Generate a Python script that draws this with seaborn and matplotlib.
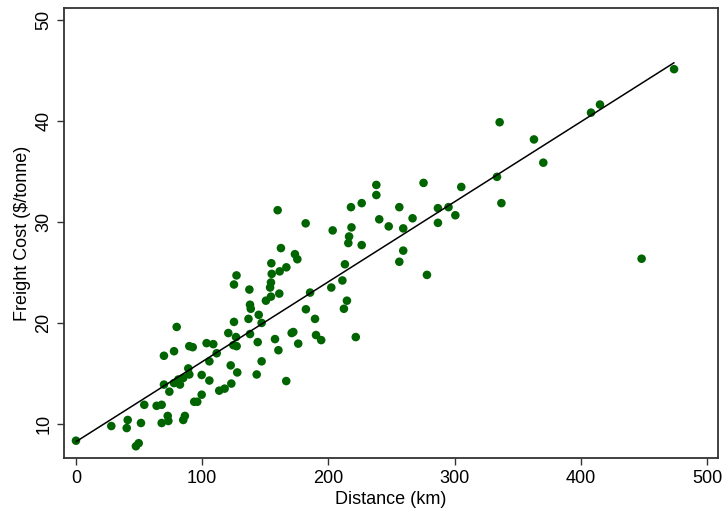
import matplotlib
matplotlib.use("Agg")
import matplotlib.pyplot as plt
import seaborn as sns
import pandas as pd

distance_km = [
    0, 28.0, 41.0, 40.2, 51.5, 47.5, 49.7, 54.1, 63.9, 67.9,
    67.9, 73.2, 72.7, 85.0, 86.3, 93.7, 96.1, 99.6, 69.7, 74.0,
    77.7, 81.1, 82.4, 85.0, 89.8, 89.0, 99.6, 105.7, 113.5, 117.8,
    123.1, 122.6, 127.8, 143.2, 147.1, 166.6, 69.7, 77.7, 79.8, 89.8,
    92.5, 103.5, 108.8, 111.5, 105.7, 120.7, 126.8, 137.9, 124.7, 127.3,
    144.0, 125.2, 136.7, 144.8, 147.1, 137.9, 138.5, 125.2, 127.2, 137.4,
    150.5, 154.5, 161.1, 153.8, 154.5, 155.1, 161.4, 166.7, 154.8, 173.5,
    175.4, 162.4, 159.8, 182.0, 157.7, 160.4, 170.9, 172.2, 176.1, 190.2,
    194.3, 189.4, 182.2, 185.5, 221.7, 202.3, 211.1, 213.1, 214.7, 212.3,
    203.4, 217.9, 218.3, 216.4, 215.8, 226.4, 226.4, 238.0, 238.0, 240.3,
    247.8, 256.2, 259.3, 259.3, 256.2, 266.7, 275.4, 278.1, 286.8, 286.8,
    295.2, 300.6, 305.3, 333.6, 335.7, 337.1, 362.9, 370.3, 408.1, 415.2,
    448.2, 473.9,
]
freight_cost = [
    8.35, 9.8, 10.4, 9.6, 10.1, 7.8, 8.1, 11.9, 11.8, 11.9,
    10.1, 10.3, 10.8, 10.4, 10.8, 12.2, 12.2, 12.9, 13.9, 13.2,
    14.05, 14.4, 13.9, 14.55, 14.9, 15.5, 14.85, 14.3, 13.3, 13.5,
    14.0, 15.8, 15.1, 14.9, 16.2, 14.25, 16.75, 17.2, 19.6, 17.7,
    17.6, 18.0, 17.9, 17.0, 16.2, 19.0, 18.6, 18.9, 17.8, 17.7,
    18.1, 20.1, 20.4, 20.8, 20.0, 21.8, 21.4, 23.8, 24.7, 23.3,
    22.2, 22.6, 22.9, 23.5, 24.0, 24.85, 25.1, 25.5, 25.9, 26.8,
    26.3, 27.4, 31.15, 29.85, 18.4, 17.3, 19.0, 19.1, 17.95, 18.8,
    18.3, 20.4, 21.35, 23.0, 18.6, 23.5, 24.2, 25.8, 22.2, 21.4,
    29.15, 31.45, 29.45, 28.55, 27.9, 31.85, 27.7, 33.65, 32.65, 30.25,
    29.55, 31.45, 29.35, 27.15, 26.05, 30.35, 33.85, 24.75, 31.35, 29.9,
    31.45, 30.65, 33.45, 34.45, 39.85, 31.85, 38.15, 35.85, 40.8, 41.6,
    26.35, 45.1,
]
x_ticks = [0, 100, 200, 300, 400, 500]
y_ticks = [10, 20, 30, 40, 50]

df = pd.DataFrame({"Distance (km)": distance_km, "Freight Cost ($/tonne)": freight_cost})

sns.set_theme(style="white")
plt.rcParams["font.family"] = ["Liberation Sans", "DejaVu Sans"]

fig = plt.figure(figsize=(7.23, 5.14), dpi=100)
ax = fig.add_axes([0.0885, 0.1084, 0.9042, 0.876])

sns.regplot(
    data=df, x="Distance (km)", y="Freight Cost ($/tonne)", ax=ax, ci=None,
    scatter_kws=dict(s=38, color="#006400", edgecolor="none", alpha=1, zorder=3),
    line_kws=dict(color="black", lw=1.1, zorder=4),
)

ax.set_xlim(-9.5, 508.5)
ax.set_ylim(6.61, 51.15)
ax.set_xticks(x_ticks)
ax.set_yticks(y_ticks)
ax.tick_params(axis="both", which="both", direction="out", length=4.7, width=1,
               color="#333333", labelsize=13, labelcolor="black",
               bottom=True, left=True, top=False, right=False, pad=3.5)
for lbl in ax.get_yticklabels():
    lbl.set_rotation(90)
    lbl.set_va("center")
ax.set_xlabel("Distance (km)", fontsize=13, color="black", labelpad=3)
ax.set_ylabel("Freight Cost ($/tonne)", fontsize=13, color="black", labelpad=3)
for sp in ax.spines.values():
    sp.set_visible(True)
    sp.set_color("#333333")
    sp.set_linewidth(1.3)
ax.grid(False)

fig.savefig("out.png", dpi=100)
